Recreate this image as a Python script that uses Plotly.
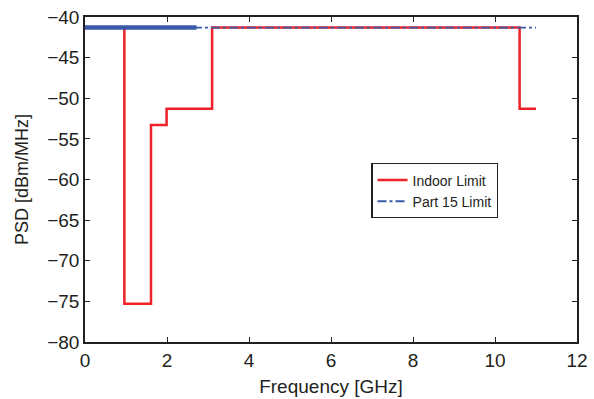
import plotly.graph_objects as go

# Indoor limit (FCC UWB indoor mask), step curve
indoor_freq = [0.0, 0.96, 0.96, 1.61, 1.61, 1.99, 1.99, 3.1, 3.1, 10.6, 10.6, 11.0]
indoor_psd = [-41.3, -41.3, -75.3, -75.3, -53.3, -53.3, -51.3, -51.3, -41.3, -41.3, -51.3, -51.3]

# Part 15 limit
part15_freq = [0.0, 11.0]
part15_psd = [-41.3, -41.3]
# densely sampled part of the Part 15 line (renders as solid thick)
part15_dense_freq = [0.0, 2.72]
part15_dense_psd = [-41.3, -41.3]

x_ticks = [0, 2, 4, 6, 8, 10, 12]
y_ticks = [-80, -75, -70, -65, -60, -55, -50, -45, -40]

RED = "#ee2229"
BLUE = "#3a5aa8"
TXT = "#231f20"
FONT = "Liberation Sans, Arial, sans-serif"

fig = go.Figure()
fig.add_trace(go.Scatter(x=indoor_freq, y=indoor_psd, mode="lines", name="Indoor Limit",
                         line=dict(color=RED, width=2.5)))
fig.add_trace(go.Scatter(x=part15_dense_freq, y=part15_dense_psd, mode="lines", showlegend=False,
                         line=dict(color=BLUE, width=4.5)))
fig.add_trace(go.Scatter(x=part15_freq, y=part15_psd, mode="lines", name="Part 15 Limit",
                         line=dict(color=BLUE, width=1.8, dash="dashdot")))

axis_common = dict(showgrid=False, zeroline=False, showline=True, linecolor=TXT, linewidth=1.5,
                   mirror="ticks", ticks="inside", ticklen=5, tickcolor=TXT, automargin=False,
                   tickfont=dict(family=FONT, size=19, color=TXT))

fig.update_xaxes(range=[0, 12], tickvals=x_ticks,
                 title=dict(text="Frequency [GHz]", font=dict(family=FONT, size=19, color=TXT), standoff=10),
                 **axis_common)
fig.update_yaxes(range=[-80, -40], tickvals=y_ticks,
                 title=dict(text="PSD [dBm/MHz]", font=dict(family=FONT, size=18, color=TXT), standoff=14),
                 **axis_common)

fig.update_layout(
    width=594, height=399,
    margin=dict(l=85, r=17, t=17, b=57),
    plot_bgcolor="white", paper_bgcolor="white",
    font=dict(family=FONT, color=TXT),
    legend=dict(x=0.582, y=0.55, xanchor="left", yanchor="top",
                bordercolor=TXT, borderwidth=1.2, bgcolor="white",
                font=dict(family=FONT, size=14, color=TXT),
                tracegroupgap=0, itemwidth=30),
)

fig.write_html("out.html")
